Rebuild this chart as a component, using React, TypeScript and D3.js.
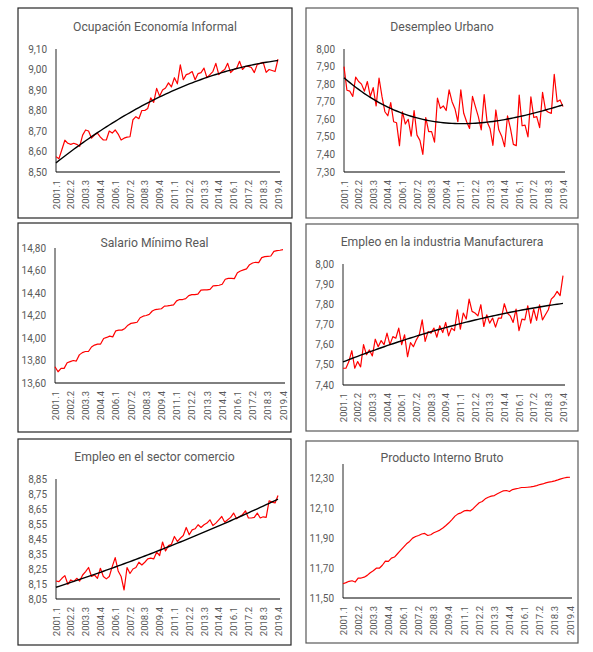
import React from "react";
import * as d3 from "d3";

// quarterly categories 2001.1 ... 2019.4
const quarters: string[] = [];
for (let yr = 2001; yr <= 2019; yr++) {
  for (let q = 1; q <= 4; q++) quarters.push(`${yr}.${q}`);
}

const xTickLabels = [
  "2001.1", "2002.2", "2003.3", "2004.4", "2006.1", "2007.2", "2008.3", "2009.4",
  "2011.1", "2012.2", "2013.3", "2014.4", "2016.1", "2017.2", "2018.3", "2019.4",
];

const informal = [
  8.575, 8.565, 8.61, 8.655, 8.64, 8.635, 8.64, 8.635, 8.625, 8.68,
  8.705, 8.70, 8.665, 8.68, 8.69, 8.67, 8.656, 8.656, 8.70, 8.69,
  8.705, 8.685, 8.656, 8.665, 8.67, 8.672, 8.755, 8.77, 8.76, 8.80,
  8.80, 8.81, 8.862, 8.84, 8.908, 8.87, 8.90, 8.91, 8.935, 8.915,
  8.96, 8.93, 9.023, 8.95, 8.975, 8.98, 8.99, 8.95, 8.98, 8.985,
  9.007, 8.96, 8.975, 8.99, 9.03, 8.975, 8.99, 9.0, 9.03, 8.985,
  9.0, 9.005, 9.04, 9.0, 9.015, 9.015, 9.01, 8.985, 9.025, 9.03,
  9.035, 8.986, 9.0, 8.995, 8.99, 9.05,
];

const desempleo = [
  7.90, 7.765, 7.76, 7.73, 7.84, 7.815, 7.80, 7.76, 7.815, 7.73,
  7.78, 7.676, 7.835, 7.73, 7.643, 7.62, 7.695, 7.586, 7.58, 7.45,
  7.643, 7.573, 7.60, 7.504, 7.65, 7.51, 7.48, 7.40, 7.61, 7.53,
  7.53, 7.47, 7.72, 7.662, 7.676, 7.65, 7.767, 7.70, 7.66, 7.586,
  7.767, 7.634, 7.586, 7.548, 7.73, 7.672, 7.615, 7.54, 7.74, 7.586,
  7.548, 7.452, 7.653, 7.54, 7.504, 7.444, 7.62, 7.548, 7.457, 7.45,
  7.738, 7.563, 7.567, 7.50, 7.728, 7.61, 7.615, 7.552, 7.753, 7.653,
  7.64, 7.634, 7.856, 7.70, 7.71, 7.672,
];

const salario = [
  13.745, 13.70, 13.73, 13.73, 13.78, 13.79, 13.80, 13.795, 13.85, 13.87,
  13.88, 13.88, 13.92, 13.937, 13.946, 13.946, 13.996, 14.005, 14.017, 14.01,
  14.064, 14.07, 14.07, 14.085, 14.114, 14.13, 14.135, 14.14, 14.18, 14.194,
  14.20, 14.21, 14.24, 14.253, 14.256, 14.26, 14.283, 14.286, 14.29, 14.295,
  14.33, 14.342, 14.342, 14.35, 14.377, 14.386, 14.386, 14.39, 14.425, 14.428,
  14.428, 14.433, 14.463, 14.466, 14.469, 14.478, 14.522, 14.53, 14.53, 14.528,
  14.58, 14.596, 14.605, 14.614, 14.652, 14.667, 14.673, 14.67, 14.714, 14.723,
  14.726, 14.729, 14.77, 14.776, 14.78, 14.785,
];

const manufactura = [
  7.483, 7.483, 7.516, 7.57, 7.483, 7.516, 7.49, 7.60, 7.55, 7.574,
  7.544, 7.627, 7.59, 7.62, 7.60, 7.657, 7.60, 7.64, 7.632, 7.682,
  7.60, 7.649, 7.54, 7.61, 7.59, 7.624, 7.649, 7.723, 7.616, 7.665,
  7.657, 7.682, 7.637, 7.694, 7.66, 7.71, 7.644, 7.682, 7.67, 7.773,
  7.677, 7.757, 7.727, 7.826, 7.765, 7.757, 7.743, 7.798, 7.69, 7.748,
  7.707, 7.732, 7.687, 7.732, 7.732, 7.803, 7.757, 7.743, 7.71, 7.776,
  7.67, 7.727, 7.723, 7.793, 7.707, 7.776, 7.72, 7.798, 7.723, 7.748,
  7.773, 7.826, 7.84, 7.864, 7.843, 7.942,
];

const comercio = [
  8.17, 8.166, 8.188, 8.206, 8.148, 8.177, 8.166, 8.188, 8.17, 8.21,
  8.233, 8.26, 8.20, 8.21, 8.188, 8.255, 8.20, 8.184, 8.20, 8.266,
  8.326, 8.237, 8.20, 8.11, 8.26, 8.22, 8.25, 8.26, 8.295, 8.277,
  8.295, 8.317, 8.322, 8.317, 8.362, 8.34, 8.43, 8.37, 8.406, 8.415,
  8.467, 8.433, 8.455, 8.473, 8.527, 8.478, 8.511, 8.518, 8.545, 8.527,
  8.545, 8.556, 8.578, 8.54, 8.556, 8.578, 8.60, 8.562, 8.578, 8.594,
  8.623, 8.585, 8.60, 8.612, 8.638, 8.59, 8.59, 8.594, 8.623, 8.59,
  8.598, 8.594, 8.705, 8.696, 8.69, 8.74,
];

const pib = [
  11.596, 11.603, 11.612, 11.616, 11.607, 11.634, 11.634, 11.64, 11.652, 11.67,
  11.683, 11.70, 11.70, 11.72, 11.748, 11.746, 11.768, 11.775, 11.797, 11.82,
  11.842, 11.864, 11.88, 11.902, 11.913, 11.92, 11.93, 11.934, 11.92, 11.925,
  11.938, 11.947, 11.956, 11.97, 11.987, 12.005, 12.027, 12.05, 12.065, 12.072,
  12.085, 12.088, 12.085, 12.10, 12.12, 12.14, 12.148, 12.166, 12.177, 12.184,
  12.188, 12.20, 12.21, 12.22, 12.222, 12.215, 12.228, 12.233, 12.237, 12.242,
  12.242, 12.244, 12.246, 12.25, 12.255, 12.262, 12.266, 12.273, 12.278, 12.282,
  12.287, 12.293, 12.30, 12.306, 12.31, 12.311,
];

const informalTicks = [8.5, 8.6, 8.7, 8.8, 8.9, 9.0, 9.1];
const desempleoTicks = [7.3, 7.4, 7.5, 7.6, 7.7, 7.8, 7.9, 8.0];
const salarioTicks = [13.6, 13.8, 14.0, 14.2, 14.4, 14.6, 14.8];
const manufacturaTicks = [7.4, 7.5, 7.6, 7.7, 7.8, 7.9, 8.0];
const comercioTicks = [8.05, 8.15, 8.25, 8.35, 8.45, 8.55, 8.65, 8.75, 8.85];
const pibTicks = [11.5, 11.7, 11.9, 12.1, 12.3];

interface PanelSpec {
  title: string;
  values: number[];
  ticks: number[];
  domain: [number, number];
  trendOrder: number; // 0 = no trendline
  box: [number, number, number, number];
  plot: { left: number; right: number; top: number; bottom: number };
  titleY: number;
  border: string;
}

const panels: PanelSpec[] = [
  {
    title: "Ocupación Economía Informal", values: informal, ticks: informalTicks,
    domain: [8.5, 9.1], trendOrder: 2, box: [18, 8, 292, 218],
    plot: { left: 56, right: 278, top: 49, bottom: 172 }, titleY: 27, border: "#262626",
  },
  {
    title: "Desempleo Urbano", values: desempleo, ticks: desempleoTicks,
    domain: [7.3, 8.0], trendOrder: 3, box: [306, 8, 578, 218],
    plot: { left: 344, right: 563, top: 49, bottom: 172 }, titleY: 27, border: "#595959",
  },
  {
    title: "Salario Mínimo Real", values: salario, ticks: salarioTicks,
    domain: [13.6, 14.8], trendOrder: 0, box: [18, 223, 291, 432],
    plot: { left: 55, right: 283, top: 248, bottom: 383 }, titleY: 243, border: "#262626",
  },
  {
    title: "Empleo en la industria Manufacturera", values: manufactura, ticks: manufacturaTicks,
    domain: [7.4, 8.0], trendOrder: 2, box: [306, 224, 578, 431],
    plot: { left: 343, right: 563, top: 264, bottom: 385 }, titleY: 242, border: "#595959",
  },
  {
    title: "Empleo en el sector comercio", values: comercio, ticks: comercioTicks,
    domain: [8.05, 8.85], trendOrder: 2, box: [18, 439, 291, 645],
    plot: { left: 56, right: 278, top: 479, bottom: 599 }, titleY: 457, border: "#262626",
  },
  {
    title: "Producto Interno Bruto", values: pib, ticks: pibTicks,
    domain: [11.5, 12.4], trendOrder: 0, box: [306, 441, 578, 643],
    plot: { left: 343, right: 570, top: 464, bottom: 598 }, titleY: 458, border: "#595959",
  },
];

// least squares polynomial trend (like Excel's polynomial trendline)
function polyTrend(vals: number[], order: number): number[] {
  const n = vals.length;
  const m = order + 1;
  const t = vals.map((_, i) => i / (n - 1));
  const A: number[][] = [];
  for (let r = 0; r < m; r++) {
    const row: number[] = [];
    for (let c = 0; c < m; c++) row.push(d3.sum(t, ti => Math.pow(ti, r + c)));
    row.push(d3.sum(t, (ti, i) => Math.pow(ti, r) * vals[i]));
    A.push(row);
  }
  for (let c = 0; c < m; c++) {
    for (let r = c + 1; r < m; r++) {
      const f = A[r][c] / A[c][c];
      for (let k = c; k <= m; k++) A[r][k] -= f * A[c][k];
    }
  }
  const coef = new Array(m).fill(0);
  for (let c = m - 1; c >= 0; c--) {
    let sum = A[c][m];
    for (let k = c + 1; k < m; k++) sum -= A[c][k] * coef[k];
    coef[c] = sum / A[c][c];
  }
  return t.map(ti => coef.reduce((acc, a, k) => acc + a * Math.pow(ti, k), 0));
}

const fmt = (v: number) => d3.format(".2f")(v).replace(".", ",");
const FONT = "Roboto, 'Noto Sans', sans-serif";

function Panel({ p }: { p: PanelSpec }) {
  const x = d3.scalePoint<string>().domain(quarters).range([p.plot.left, p.plot.right]);
  const y = d3.scaleLinear().domain(p.domain).range([p.plot.bottom, p.plot.top]);
  const line = d3.line<number>()
    .x((_, i) => x(quarters[i]) as number)
    .y(d => y(d));
  const trend = p.trendOrder > 0 ? polyTrend(p.values, p.trendOrder) : null;
  const [bx0, by0, bx1, by1] = p.box;

  return (
    <g>
      <rect x={bx0} y={by0} width={bx1 - bx0} height={by1 - by0} fill="#fff" stroke={p.border} strokeWidth={1.2} />
      <text x={(bx0 + bx1) / 2} y={p.titleY} textAnchor="middle" dominantBaseline="central"
        fontFamily={FONT} fontSize={12.2} fill="#595959">{p.title}</text>
      {p.ticks.map(t => (
        <text key={t} x={p.plot.left - 9} y={y(t)} textAnchor="end" dominantBaseline="central"
          fontFamily={FONT} fontSize={10} fill="#595959">{fmt(t)}</text>
      ))}
      {xTickLabels.map(lbl => (
        <text key={lbl} transform={`translate(${x(lbl)},${p.plot.bottom + 8}) rotate(-90)`}
          textAnchor="end" dominantBaseline="central" fontFamily={FONT} fontSize={9.5} fill="#595959">{lbl}</text>
      ))}
      <line x1={p.plot.left} x2={p.plot.left} y1={p.plot.top} y2={p.plot.bottom} stroke="#262626" strokeWidth={1} />
      <line x1={p.plot.left} x2={p.plot.right + 2} y1={p.plot.bottom} y2={p.plot.bottom} stroke="#000" strokeWidth={1} />
      <path d={line(p.values) ?? ""} fill="none" stroke="#ff0000" strokeWidth={1.2} strokeLinejoin="round" />
      {trend && (
        <path d={line(trend) ?? ""} fill="none" stroke="#000" strokeWidth={1.4} />
      )}
    </g>
  );
}

export default function App() {
  return (
    <div style={{ position: "absolute", left: 0, top: 0 }}>
      <svg width={593} height={652} style={{ display: "block", background: "#fff" }}>
        {panels.map(p => <Panel key={p.title} p={p} />)}
      </svg>
    </div>
  );
}
